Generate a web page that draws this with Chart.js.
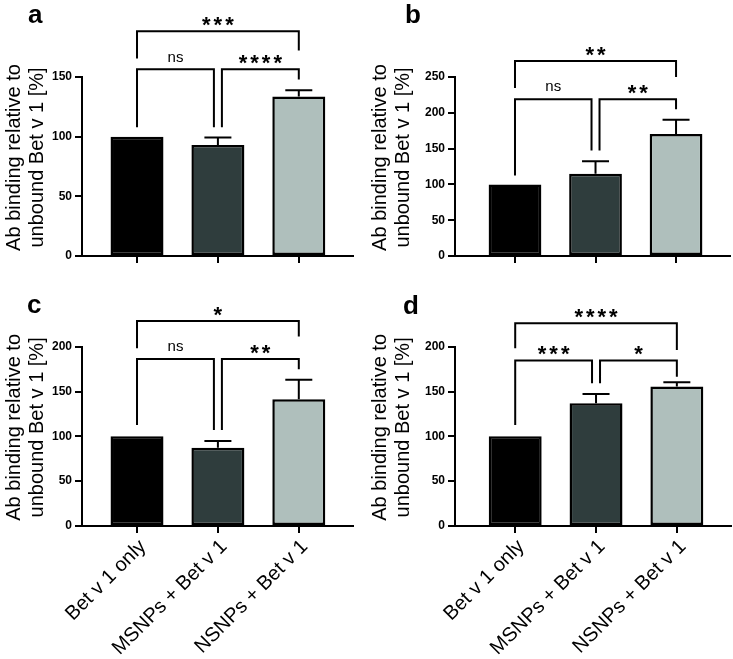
<!DOCTYPE html>
<html>
<head>
<meta charset="utf-8">
<script src="https://cdn.jsdelivr.net/npm/chart.js@4"></script>
<style>
  html, body { margin: 0; padding: 0; background: #fff; }
  #wrap { position: relative; width: 733px; height: 659px; }
  canvas { position: absolute; }
</style>
</head>
<body>
<div id="wrap">
  <canvas id="panelA" width="366" height="270" style="left:0;top:0"></canvas>
  <canvas id="panelB" width="367" height="270" style="left:366px;top:0"></canvas>
  <canvas id="panelC" width="366" height="389" style="left:0;top:270px"></canvas>
  <canvas id="panelD" width="367" height="389" style="left:366px;top:270px"></canvas>
</div>
<script>
'use strict';

// --- data -----------------------------------------------------------
const categories = ['Bet v 1 only', 'MSNPs + Bet v 1', 'NSNPs + Bet v 1'];
const yTitle = ['Ab binding relative to', 'unbound Bet v 1 [%]'];

const meansA = [100, 93.1, 133.6];
const sdA = [0, 6.3, 5.3];
const meansB = [100, 114.9, 170.4];
const sdB = [0, 17.5, 19.9];
const meansC = [100, 87.4, 141.4];
const sdC = [0, 7.5, 21.6];
const meansD = [100, 136.9, 155.5];
const sdD = [0, 10.4, 4.9];

const yTicksA = [0, 50, 100, 150];
const yTicksB = [0, 50, 100, 150, 200, 250];
const yTicksC = [0, 50, 100, 150, 200];
const yTicksD = [0, 50, 100, 150, 200];

// significance brackets: from/to category, height, leg ends (left, right)
const bracketsA = [
  { from: 0, to: 2, y: 188.3, ends: [165.6, 172.3], label: '***' },
  { from: 0, to: 1, y: 156.4, ends: [107.8, 107.8], label: 'ns' },
  { from: 1, to: 2, y: 156.4, ends: [107.8, 148], label: '****' }
];
const bracketsB = [
  { from: 0, to: 2, y: 272.2, ends: [234.7, 250], label: '**' },
  { from: 0, to: 1, y: 219, ends: [112.5, 147.2], label: 'ns' },
  { from: 1, to: 2, y: 219, ends: [147.2, 205], label: '**' }
];
const bracketsC = [
  { from: 0, to: 2, y: 228.8, ends: [198.3, 211.3], label: '*' },
  { from: 0, to: 1, y: 186.4, ends: [112.7, 107.1], label: 'ns' },
  { from: 1, to: 2, y: 186.4, ends: [107.1, 174.9], label: '**' }
];
const bracketsD = [
  { from: 0, to: 2, y: 226.2, ends: [198.3, 196.4], label: '****' },
  { from: 0, to: 1, y: 184.5, ends: [112.7, 159.2], label: '***' },
  { from: 1, to: 2, y: 184.5, ends: [159.2, 166.6], label: '*' }
];

const barColors = ['#000000', '#2f3d3d', '#afbfbc'];
const fontFam = '"Liberation Sans", Arial, Helvetica, sans-serif';

Chart.defaults.font.family = fontFam;
Chart.defaults.color = '#000';

// error bars, brackets, y title and panel letter
const annotate = {
  id: 'annotate',
  afterDatasetsDraw(chart, args, o) {
    const { ctx, scales: { x, y } } = chart;
    ctx.save();
    ctx.strokeStyle = '#000';
    ctx.fillStyle = '#000';
    ctx.lineWidth = 2;

    o.means.forEach((m, i) => {
      if (!o.sds[i]) return;
      const px = x.getPixelForValue(i);
      const base = y.getPixelForValue(m);
      const top = y.getPixelForValue(m + o.sds[i]);
      ctx.beginPath();
      ctx.moveTo(px, base);
      ctx.lineTo(px, top);
      ctx.moveTo(px - 13.5, top);
      ctx.lineTo(px + 13.5, top);
      ctx.stroke();
    });

    o.brackets.forEach(b => {
      let x1 = x.getPixelForValue(b.from);
      let x2 = x.getPixelForValue(b.to);
      if (b.to - b.from === 1) {
        if (b.from === 1) x1 += 4;
        if (b.to === 1) x2 -= 4;
      }
      const yl = y.getPixelForValue(b.y);
      ctx.beginPath();
      ctx.moveTo(x1, y.getPixelForValue(b.ends[0]));
      ctx.lineTo(x1, yl);
      ctx.lineTo(x2, yl);
      ctx.lineTo(x2, y.getPixelForValue(b.ends[1]));
      ctx.stroke();

      const cx = (x1 + x2) / 2;
      const cy = yl - 12;
      ctx.textAlign = 'center';
      if (b.label === 'ns') {
        ctx.font = '15px ' + fontFam;
        ctx.letterSpacing = '0px';
        ctx.textBaseline = 'middle';
        ctx.fillText(b.label, cx, cy);
      } else {
        ctx.font = 'bold 22px ' + fontFam;
        ctx.letterSpacing = '3px';
        ctx.textBaseline = 'alphabetic';
        ctx.fillText(b.label, cx + 1.5, cy + 0.58 * 22);
      }
    });
    ctx.restore();
  },
  afterDraw(chart, args, o) {
    const { ctx, chartArea } = chart;
    const cy = (chartArea.top + chartArea.bottom) / 2 - 9;
    ctx.save();
    ctx.fillStyle = '#000';
    ctx.font = '20px ' + fontFam;
    ctx.textAlign = 'center';
    ctx.textBaseline = 'alphabetic';
    [20, 43].forEach((bx, i) => {
      ctx.save();
      ctx.translate(bx, cy);
      ctx.rotate(-Math.PI / 2);
      ctx.fillText(yTitle[i], 0, 0);
      ctx.restore();
    });
    ctx.font = 'bold 26px ' + fontFam;
    ctx.textAlign = 'left';
    ctx.fillText(o.letter, o.letterX, o.letterY);
    ctx.restore();
  }
};

function makePanel(id, means, sds, yTicks, brackets, cfg) {
  const ctx = document.getElementById(id);
  return new Chart(ctx, {
    type: 'bar',
    data: {
      datasets: [{
        data: means.map((v, i) => ({ x: i, y: v })),
        backgroundColor: barColors,
        borderColor: '#000',
        borderWidth: 2.5,
        borderSkipped: false,
        categoryPercentage: 1,
        barPercentage: 0.655
      }]
    },
    options: {
      responsive: false,
      animation: false,
      devicePixelRatio: 1,
      layout: { padding: { left: 0, right: cfg.padRight, top: cfg.padTop, bottom: 0 } },
      plugins: {
        legend: { display: false },
        tooltip: { enabled: false },
        annotate: { means, sds, brackets, letter: cfg.letter, letterX: cfg.letterX, letterY: cfg.letterY }
      },
      scales: {
        x: {
          type: 'linear',
          offset: false,
          min: cfg.xMin,
          max: cfg.xMax,
          afterBuildTicks: s => { s.ticks = categories.map((c, i) => ({ value: i })); },
          afterFit: s => { s.height = cfg.xHeight; },
          ticks: {
            display: cfg.showLabels,
            autoSkip: false,
            minRotation: 45,
            maxRotation: 45,
            padding: 2,
            labelOffset: 6,
            color: '#000',
            font: { size: 20 },
            callback: v => categories[v]
          },
          grid: { offset: false, drawOnChartArea: false, drawTicks: true, tickLength: 7, color: '#000', lineWidth: 2 },
          border: { display: true, color: '#000', width: 2 }
        },
        y: {
          min: yTicks[0],
          max: yTicks[yTicks.length - 1],
          afterBuildTicks: s => { s.ticks = yTicks.map(v => ({ value: v })); },
          afterFit: s => { s.width = cfg.yWidth; },
          ticks: { color: '#000', padding: 3, font: { size: 12, weight: 'bold' } },
          grid: { drawOnChartArea: false, drawTicks: true, tickLength: 7, color: '#000', lineWidth: 2 },
          border: { display: true, color: '#000', width: 2 }
        }
      }
    },
    plugins: [annotate]
  });
}

makePanel('panelA', meansA, sdA, yTicksA, bracketsA,
  { padTop: 77, padRight: 13, xHeight: 14, yWidth: 82, xMin: -0.68, xMax: 2.67, showLabels: false, letter: 'a', letterX: 28, letterY: 23 });
makePanel('panelB', meansB, sdB, yTicksB, bracketsB,
  { padTop: 77, padRight: 3, xHeight: 14, yWidth: 89, xMin: -0.745, xMax: 2.67, showLabels: false, letter: 'b', letterX: 39, letterY: 23 });
makePanel('panelC', meansC, sdC, yTicksC, bracketsC,
  { padTop: 76.7, padRight: 13, xHeight: 133, yWidth: 82, xMin: -0.68, xMax: 2.67, showLabels: true, letter: 'c', letterX: 27, letterY: 43 });
makePanel('panelD', meansD, sdD, yTicksD, bracketsD,
  { padTop: 76.7, padRight: 2, xHeight: 133, yWidth: 89, xMin: -0.745, xMax: 2.67, showLabels: true, letter: 'd', letterX: 37, letterY: 44 });
</script>
</body>
</html>
